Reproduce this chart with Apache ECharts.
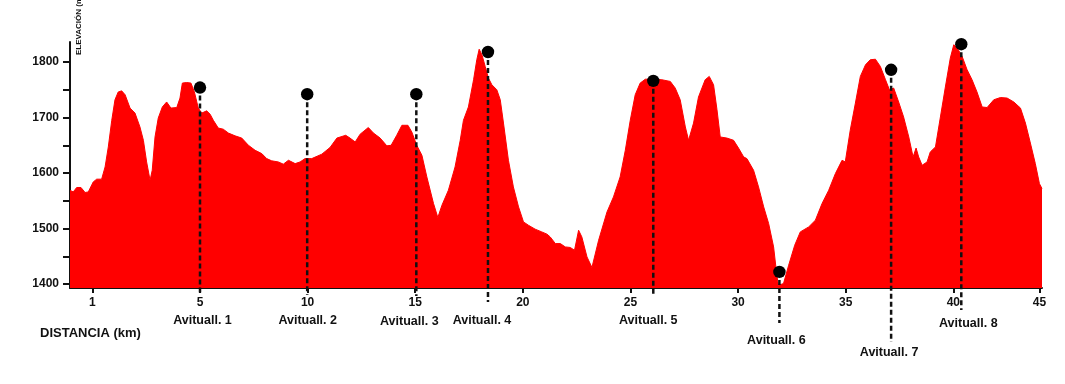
<!DOCTYPE html>
<html>
<head>
<meta charset="utf-8">
<script src="https://cdn.jsdelivr.net/npm/echarts@6/dist/echarts.min.js"></script>
<style>
html,body{margin:0;padding:0;background:#fff;}
#chart{width:1065px;height:384px;}
</style>
</head>
<body>
<div id="chart"></div>
<script>
// ---- DATA ----
const distanceKm = [-1.04,-0.89,-0.73,-0.53,-0.34,-0.19,0.04,0.20,0.43,0.59,0.74,0.90,1.05,1.20,1.36,1.52,1.75,1.98,2.21,2.37,2.52,2.68,2.78,2.91,3.06,3.25,3.45,3.65,3.92,4.07,4.18,4.38,4.58,4.74,4.92,5.08,5.31,5.47,5.62,5.85,6.08,6.32,6.63,6.94,7.25,7.56,7.87,8.10,8.33,8.64,8.87,9.11,9.42,9.65,9.88,10.19,10.66,11.04,11.36,11.77,11.97,12.21,12.44,12.82,13.06,13.37,13.68,13.88,14.14,14.38,14.66,14.84,15.07,15.31,15.54,15.85,16.05,16.24,16.54,16.85,17.09,17.24,17.47,17.71,17.86,17.97,18.10,18.25,18.40,18.56,18.79,18.95,19.10,19.33,19.56,19.80,20.03,20.26,20.57,20.88,21.12,21.27,21.51,21.74,21.97,22.20,22.40,22.59,22.74,22.98,23.21,23.52,23.91,24.21,24.52,24.76,24.99,25.22,25.45,25.69,26.07,26.46,26.85,27.08,27.31,27.55,27.70,27.93,28.16,28.47,28.66,28.86,29.02,29.17,29.48,29.79,30.02,30.26,30.41,30.72,30.95,31.19,31.42,31.65,31.81,31.88,32.11,32.35,32.63,32.89,33.28,33.59,33.90,34.21,34.52,34.83,34.98,35.21,35.45,35.68,35.92,36.14,36.38,36.61,36.85,37.03,37.23,37.46,37.69,37.93,38.13,38.27,38.39,38.55,38.78,38.93,39.17,39.40,39.63,39.86,40.02,40.17,40.41,40.64,40.87,41.10,41.34,41.57,41.88,42.19,42.50,42.81,43.12,43.35,43.58,43.81,44.00,44.12];
const elevationM = [1569,1566,1574,1574,1565,1566,1584,1589,1589,1611,1647,1695,1732,1746,1748,1741,1717,1708,1683,1659,1620,1587,1605,1665,1699,1719,1728,1717,1718,1735,1762,1763,1762,1746,1717,1708,1712,1706,1695,1681,1679,1672,1667,1663,1650,1641,1635,1626,1622,1620,1616,1623,1617,1620,1626,1626,1634,1646,1663,1668,1663,1656,1670,1682,1672,1663,1649,1650,1668,1686,1686,1674,1650,1632,1593,1545,1520,1542,1569,1611,1659,1695,1719,1768,1804,1823,1813,1792,1771,1759,1750,1732,1690,1623,1575,1539,1512,1506,1499,1494,1490,1485,1473,1473,1467,1466,1461,1497,1485,1449,1430,1479,1530,1557,1593,1641,1695,1741,1762,1769,1769,1768,1765,1753,1732,1683,1659,1690,1737,1768,1774,1759,1714,1665,1663,1659,1645,1629,1626,1605,1575,1539,1509,1467,1413,1398,1401,1434,1470,1494,1503,1515,1545,1569,1599,1623,1620,1677,1726,1774,1795,1804,1805,1792,1768,1750,1753,1728,1701,1665,1629,1645,1629,1614,1620,1638,1647,1701,1755,1807,1831,1826,1810,1786,1768,1746,1719,1718,1732,1736,1735,1728,1717,1690,1654,1617,1581,1572];

const aidNames = ['Avituall. 1','Avituall. 2','Avituall. 3','Avituall. 4','Avituall. 5','Avituall. 6','Avituall. 7','Avituall. 8'];
const aidKm = [5.00, 9.98, 15.05, 18.38, 26.06, 31.92, 37.11, 40.37];
const aidElev = [1754, 1742, 1742, 1818, 1766, 1422, 1786, 1832];

const xTickKm = [0, 5, 10, 15, 20, 25, 30, 35, 40, 44];
const xTickLabels = ['1','5','10','15','20','25','30','35','40','45'];
const yTickValues = [1400, 1450, 1500, 1550, 1600, 1650, 1700, 1750, 1800];
const yLabelValues = [1400, 1500, 1600, 1700, 1800];

// ---- LAYOUT (pixels) ----
const stemDrop = [7, 7, 8, 14, 7, 35, 54, 22];
const labelDy = [33, 33, 34, 33, 33, 53, 65, 36];
const labelDx = [2.5, 0.5, -7, -6, -5, -3, -2, 7];

const X_MIN = -1.04, X_MAX = 44.12, Y_MIN = 1393, Y_MAX = 1836;
const FONT = '"Liberation Sans", Arial, sans-serif';

const profile = distanceKm.map((d, i) => [d, elevationM[i]]);
const aid = aidKm.map((d, i) => [d, aidElev[i]]);

const chart = echarts.init(document.getElementById('chart'), null, {renderer: 'canvas'});
chart.setOption({
  animation: false,
  backgroundColor: '#ffffff',
  grid: {left: 70, right: 23, top: 42, bottom: 96, containLabel: false},
  xAxis: {
    type: 'value', min: X_MIN, max: X_MAX,
    splitLine: {show: false},
    axisLine: {show: true, onZero: false, lineStyle: {color: '#111', width: 2}},
    axisTick: {show: true, length: 5, customValues: xTickKm, lineStyle: {color: '#111', width: 2}},
    axisLabel: {
      show: true, customValues: xTickKm, margin: 9,
      color: '#111', fontSize: 12, fontWeight: 'bold', fontFamily: FONT,
      formatter: v => { const i = xTickKm.indexOf(v); return i >= 0 ? xTickLabels[i] : ''; }
    }
  },
  yAxis: {
    type: 'value', min: Y_MIN, max: Y_MAX,
    splitLine: {show: false},
    axisLine: {show: true, onZero: false, lineStyle: {color: '#111', width: 2}},
    axisTick: {show: true, length: 7, customValues: yTickValues, lineStyle: {color: '#111', width: 2}},
    axisLabel: {
      show: true, customValues: yLabelValues, margin: 11,
      color: '#111', fontSize: 12, fontWeight: 'bold', fontFamily: FONT,
      formatter: v => String(Math.round(v))
    }
  },
  graphic: [
    {type: 'text', x: 40, y: 333, style: {text: 'DISTANCIA (km)', fill: '#111', font: 'bold 13px ' + FONT, textVerticalAlign: 'middle'}},
    {type: 'text', x: 78.5, y: 55, rotation: Math.PI / 2, style: {text: 'ELEVACIÓN (m)', fill: '#111', font: 'bold 8px ' + FONT, textAlign: 'left', textVerticalAlign: 'middle'}}
  ],
  series: [
    {
      type: 'line', data: profile, showSymbol: false, smooth: false,
      lineStyle: {color: '#ff0000', width: 1},
      areaStyle: {color: '#ff0000', opacity: 1, origin: 'start'},
      z: 2
    },
    {
      type: 'custom', data: aid, z: 5, clip: false,
      renderItem: function (params, api) {
        const i = params.dataIndex;
        const top = api.coord([api.value(0), api.value(1)]);
        const axisY = api.coord([api.value(0), Y_MIN])[1];
        return {
          type: 'group',
          children: [
            {type: 'line', shape: {x1: top[0], y1: top[1], x2: top[0], y2: axisY + stemDrop[i]},
             style: {stroke: '#111', lineWidth: 2.5, lineDash: [5, 3]}},
            {type: 'circle', shape: {cx: top[0], cy: top[1], r: 6.2}, style: {fill: '#000'}},
            {type: 'text', x: top[0] + labelDx[i], y: axisY + labelDy[i],
             style: {text: aidNames[i], fill: '#111', font: 'bold 12.5px ' + FONT, textAlign: 'center', textVerticalAlign: 'middle'}}
          ]
        };
      }
    }
  ]
});
</script>
</body>
</html>
